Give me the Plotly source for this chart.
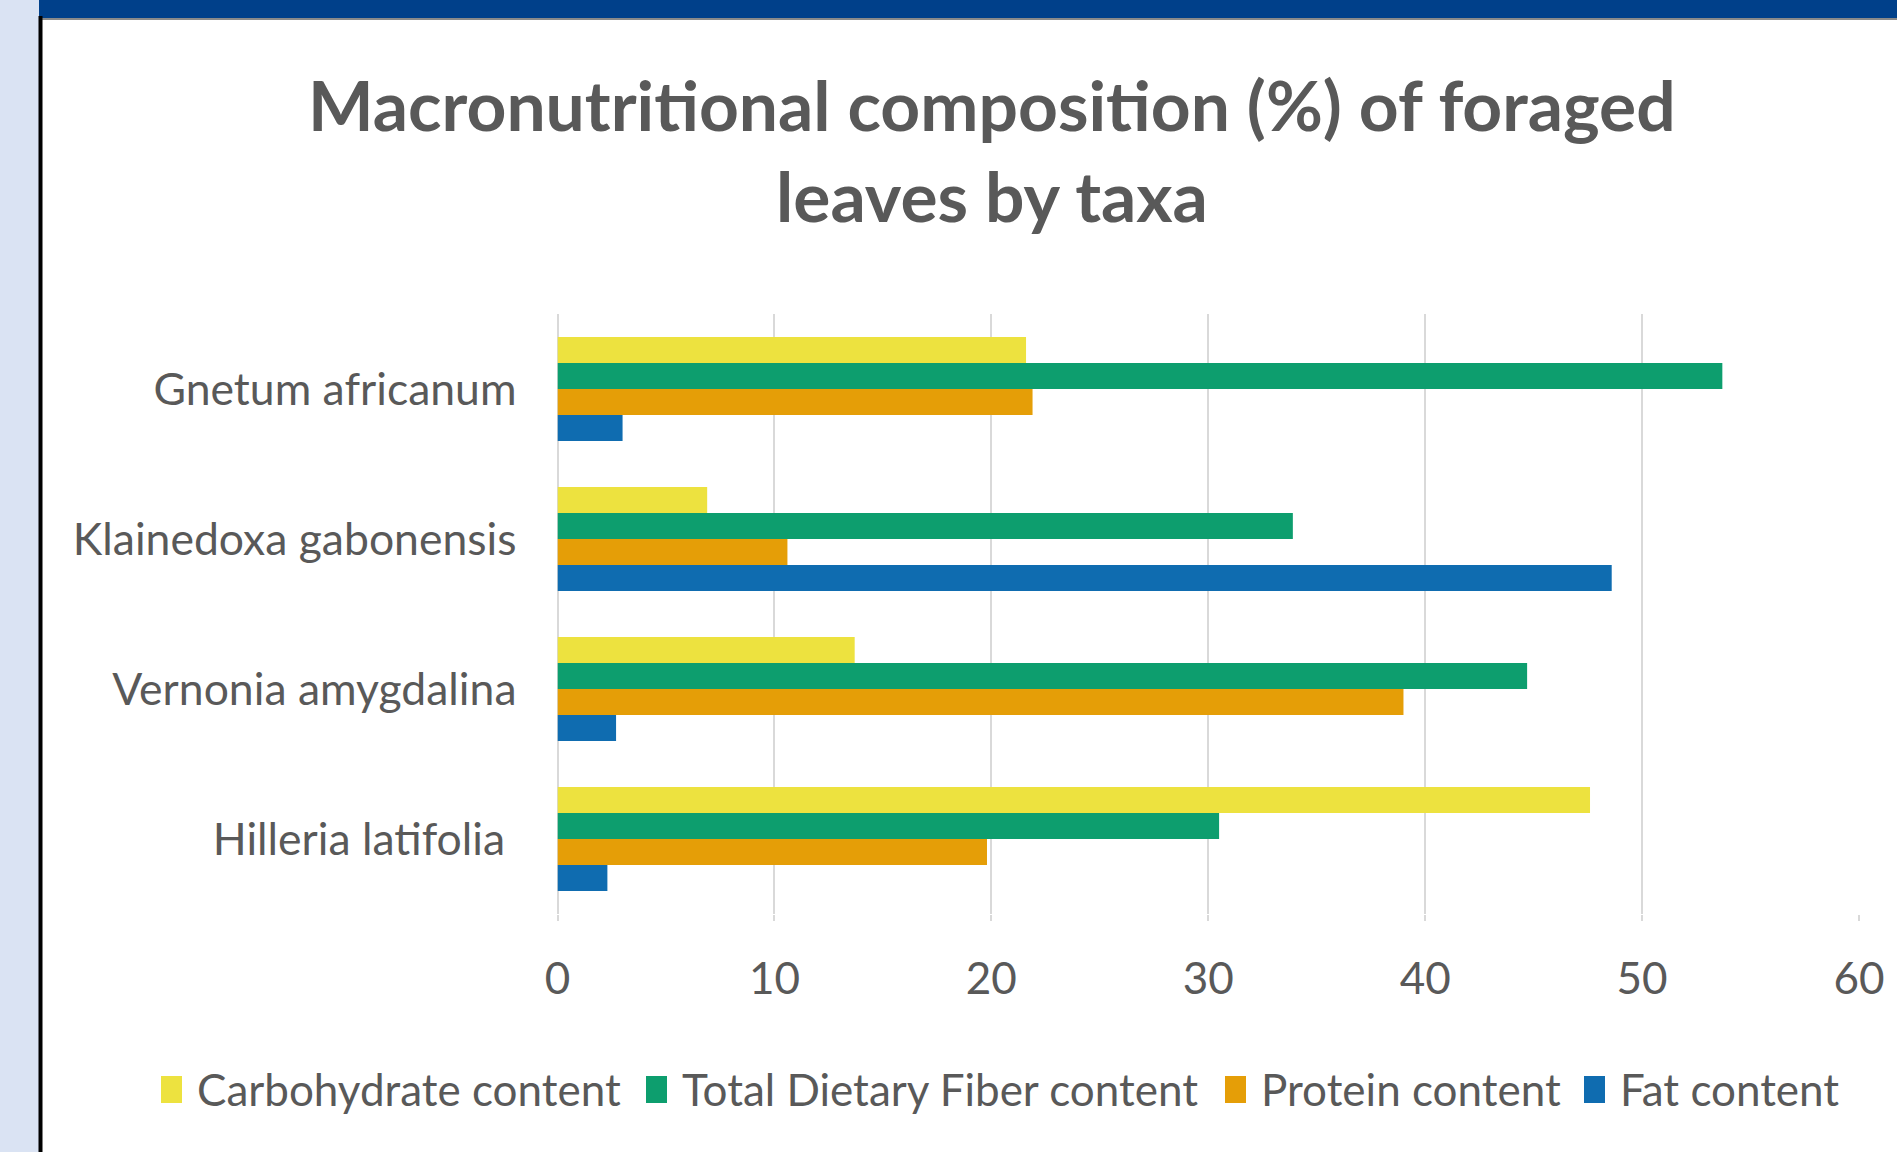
import plotly.graph_objects as go

# Taxa (top to bottom) and macronutrient percentages per taxon
taxa = ["Gnetum africanum", "Klainedoxa gabonensis", "Vernonia amygdalina", "Hilleria latifolia\u00a0"]
carbohydrate = [21.6, 6.9, 13.7, 47.6]
fiber = [53.7, 33.9, 44.7, 30.5]
protein = [21.9, 10.6, 39.0, 19.8]
fat = [3.0, 48.6, 2.7, 2.3]

series_names = ["Carbohydrate content", "Total Dietary Fiber content", "Protein content", "Fat content"]
series_values = [carbohydrate, fiber, protein, fat]
series_colors = ["#EDE23F", "#0D9E6E", "#E59E07", "#0F6CB0"]

x_ticks = [0, 10, 20, 30, 40, 50, 60]

W, H = 1897, 1152
FONT = "Lato"
GREY_TEXT = "#595959"
GRID = "#d9d9d9"


def px(x):
    return x / W


def py(y):
    return 1 - y / H


fig = go.Figure()
for name, vals, col in zip(series_names, series_values, series_colors):
    fig.add_trace(go.Bar(
        y=taxa, x=vals, name=name, orientation="h",
        marker=dict(color=col, line=dict(width=0)),
        showlegend=False,
    ))

shapes = [
    # light blue strip on the left edge
    dict(type="rect", xref="paper", yref="paper", x0=px(0), x1=px(39), y0=py(H), y1=py(0),
         fillcolor="#DAE3F3", line=dict(width=0), layer="below"),
    # navy header band
    dict(type="rect", xref="paper", yref="paper", x0=px(39), x1=px(W), y0=py(18), y1=py(0),
         fillcolor="#00408A", line=dict(width=0), layer="below"),
    # thin grey rule under the header
    dict(type="rect", xref="paper", yref="paper", x0=px(39), x1=px(W), y0=py(20), y1=py(18),
         fillcolor="#8a8a8a", line=dict(width=0), layer="below"),
    # dark frame edge on the left
    dict(type="rect", xref="paper", yref="paper", x0=px(38.5), x1=px(42.5), y0=py(H), y1=py(16),
         fillcolor="#000000", line=dict(width=0), layer="below"),
]

annotations = [
    dict(text="<b>Macronutritional composition (%) of foraged</b>", xref="paper", yref="paper",
         x=px(992), y=py(104), xanchor="center", yanchor="middle", showarrow=False,
         font=dict(family=FONT, size=69.5, color=GREY_TEXT)),
    dict(text="<b>leaves by taxa</b>", xref="paper", yref="paper",
         x=px(992), y=py(195), xanchor="center", yanchor="middle", showarrow=False,
         font=dict(family=FONT, size=69.5, color=GREY_TEXT)),
]

# legend row drawn along the bottom
legend_square_x = [161, 646, 1225, 1584]
for name, col, sx in zip(series_names, series_colors, legend_square_x):
    shapes.append(dict(type="rect", xref="paper", yref="paper", x0=px(sx), x1=px(sx + 21),
                       y0=py(1103), y1=py(1076), fillcolor=col, line=dict(width=0)))
    annotations.append(dict(text=name, xref="paper", yref="paper", x=px(sx + 34), y=py(1089),
                            xanchor="left", yanchor="middle", showarrow=False,
                            font=dict(family=FONT, size=44, color=GREY_TEXT)))

fig.update_layout(
    width=W, height=H, autosize=False,
    margin=dict(l=0, r=0, t=0, b=0, pad=0),
    paper_bgcolor="white", plot_bgcolor="white",
    barmode="group", bargap=0.307, bargroupgap=0,
    showlegend=False,
    shapes=shapes, annotations=annotations,
    xaxis=dict(
        domain=[px(557.5), px(1859)], range=[0, 60], tickvals=x_ticks,
        automargin=False,
        showgrid=True, gridcolor=GRID, gridwidth=2,
        zeroline=True, zerolinecolor=GRID, zerolinewidth=2,
        showline=False, ticks="outside", ticklen=6, tickcolor=GRID, tickwidth=2,
        ticklabelstandoff=20,
        tickfont=dict(family=FONT, size=44, color=GREY_TEXT),
    ),
    yaxis=dict(
        domain=[py(914), py(314)], type="category", autorange="reversed",
        automargin=False,
        showgrid=False, zeroline=False, showline=False, ticks="",
        ticklabelstandoff=40,
        tickfont=dict(family=FONT, size=44.5, color=GREY_TEXT),
    ),
)

fig.write_html(
    "out.html",
    config={"displayModeBar": False},
    post_script="document.body.style.margin='0';document.body.style.overflow='hidden';",
)
